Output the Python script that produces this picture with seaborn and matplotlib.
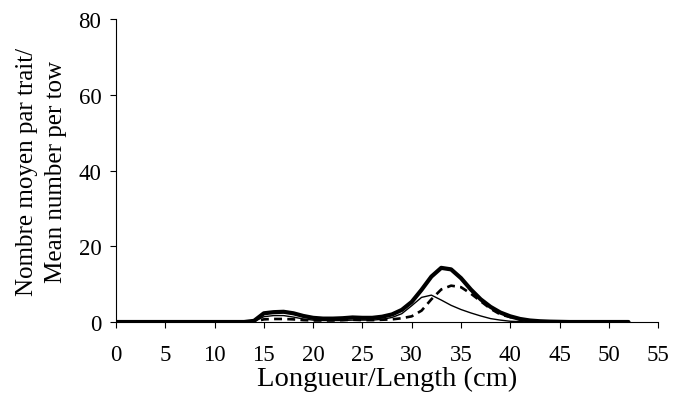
import matplotlib
matplotlib.use("Agg")
import matplotlib.pyplot as plt
import seaborn as sns
import pandas as pd

length = list(range(0, 53))
# values for lengths 14..45; zeros elsewhere
total_mid = [0.3, 2.3, 2.6, 2.7, 2.3, 1.6, 1.1, 0.9, 0.9, 1.0, 1.2, 1.1, 1.1, 1.4, 2.0, 3.2,
             5.3, 8.5, 12.0, 14.3, 13.9, 11.6, 8.6, 6.0, 4.0, 2.5, 1.5, 0.8, 0.4, 0.2, 0.1, 0.05]
thin_mid = [0.1, 1.4, 1.7, 1.7, 1.3, 0.8, 0.5, 0.4, 0.4, 0.4, 0.5, 0.5, 0.5, 0.7, 1.2, 2.2,
            4.3, 6.5, 7.1, 5.8, 4.4, 3.3, 2.4, 1.6, 0.9, 0.5, 0.2, 0.1, 0, 0, 0, 0]
dashed_mid = [0.1, 0.7, 0.8, 0.8, 0.7, 0.5, 0.4, 0.4, 0.4, 0.5, 0.6, 0.5, 0.5, 0.6, 0.7, 1.0,
              1.5, 3.0, 6.0, 8.6, 9.6, 9.2, 7.5, 5.5, 3.5, 2.0, 1.3, 0.7, 0.4, 0.2, 0.1, 0.05]
lead = [0] * 14
trail = [0] * (53 - 14 - len(total_mid))
total = lead + total_mid + trail
thin = lead + thin_mid + trail
dashed = lead + dashed_mid + trail

df = pd.DataFrame({"length": length, "total": total, "thin": thin, "dashed": dashed})

sns.set_theme(style="ticks")
plt.rcParams["font.family"] = ["Liberation Serif", "DejaVu Serif"]

fig = plt.figure(figsize=(6.75, 4.02), dpi=100)
ax = fig.add_axes([0.1719, 0.1965, 0.8030, 0.7535])

sns.lineplot(data=df, x="length", y="thin", ax=ax, color="black", linewidth=1.0)
sns.lineplot(data=df, x="length", y="dashed", ax=ax, color="black", linewidth=1.9,
             linestyle=(0, (3, 2)))
sns.lineplot(data=df, x="length", y="total", ax=ax, color="black", linewidth=3.0)

ax.set_xlim(0, 55)
ax.set_ylim(0, 80)
ax.set_xticks(range(0, 56, 5))
ax.set_yticks(range(0, 81, 20))
ax.tick_params(axis="both", labelsize=16.5, direction="out", length=4.5, width=0.8, colors="black")
ax.tick_params(axis="x", pad=11)
ax.tick_params(axis="y", pad=6)
sns.despine(ax=ax)
for s in ["left", "bottom"]:
    ax.spines[s].set_color("black")
    ax.spines[s].set_linewidth(0.8)
ax.set_xlabel("Longueur/Length (cm)", fontsize=20.5, color="black", labelpad=1)
ax.set_ylabel("Nombre moyen par trait/\nMean number per tow", fontsize=18, color="black",
              labelpad=8, linespacing=1.45)

fig.savefig("out.png", dpi=100)
